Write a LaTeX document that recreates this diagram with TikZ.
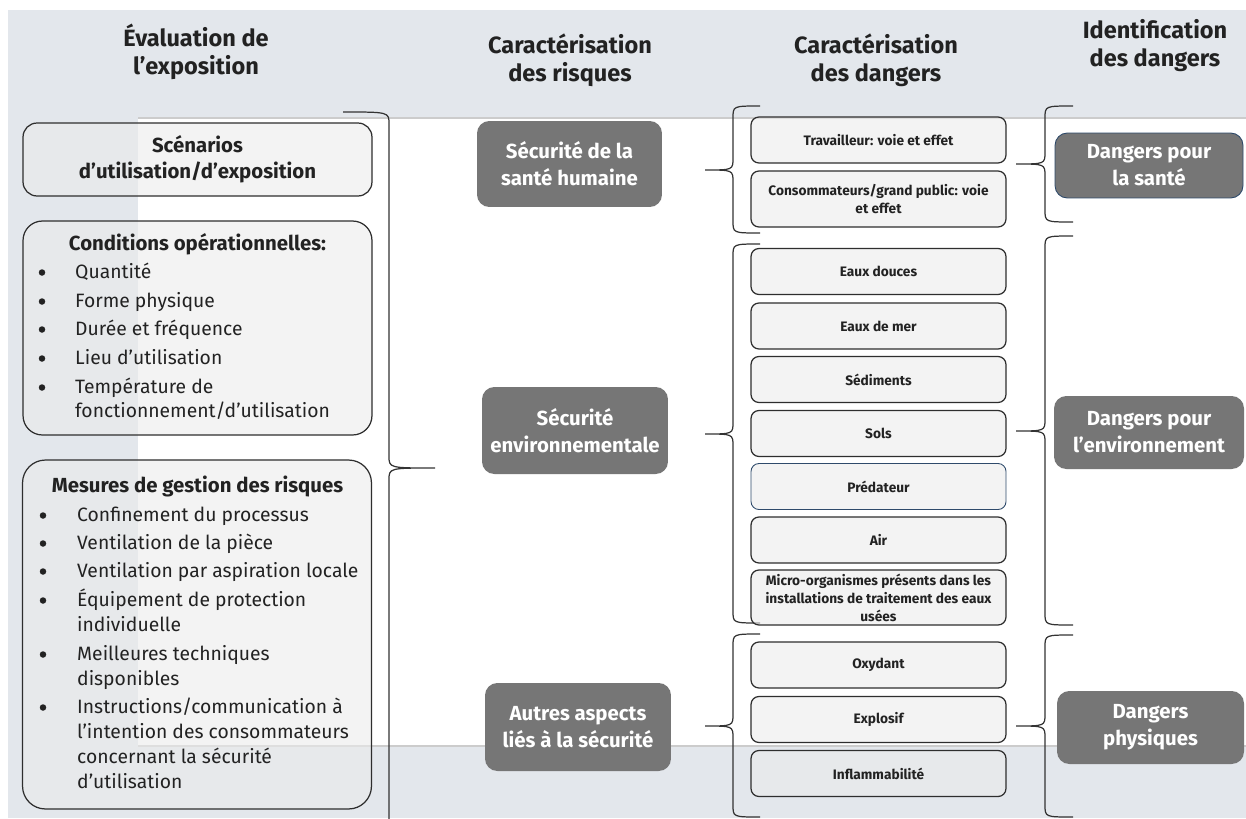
\documentclass[tikz,border=0pt]{standalone}
\usepackage{fontspec}
\setmainfont{Fira Sans}
\definecolor{bandgray}{HTML}{E3E7EC}
\definecolor{boxdark}{HTML}{767676}
\definecolor{edgegray}{HTML}{2E2E2E}
\definecolor{bluegray}{HTML}{2E4A6B}
\definecolor{inkgray}{HTML}{222222}

% xv, top, mid, bottom, tip x, hook x
\newcommand{\curly}[6]{%
  \draw[bracestroke] (#6,#2) .. controls ({#1},#2) .. ({#1},{#2+12})
    -- ({#1},{#3-12}) .. controls ({#1},#3) .. (#5,#3)
    .. controls ({#1},#3) .. ({#1},{#3+12})
    -- ({#1},{#4-12}) .. controls ({#1},#4) .. (#6,#4);}

\begin{document}
\begin{tikzpicture}[x=0.02cm,y=-0.02cm,
    bracestroke/.style={draw=black!80,line width=0.7pt},
    headtext/.style={text=inkgray,align=center,font=\bfseries\fontsize{13.4}{15.9}\selectfont},
    panelbox/.style={draw=edgegray,line width=0.7pt,fill=black!8,fill opacity=0.6,text opacity=1,
      text=inkgray,minimum width=6.98cm,inner sep=0pt,align=center,font=\bfseries\fontsize{11.6}{14.7}\selectfont},
    listhead/.style={anchor=base,text=inkgray,font=\bfseries\fontsize{11.6}{14}\selectfont},
    listitem/.style={anchor=base west,text=inkgray,font=\fontsize{11}{14}\selectfont},
    bulletmark/.style={circle,fill=inkgray,minimum size=0.13cm,inner sep=0pt,yshift=0.11cm},
    darkbox/.style={fill=boxdark,text=white,rounded corners=7pt,inner sep=0pt,align=center,
      font=\bfseries\fontsize{11.6}{15.3}\selectfont},
    smallbox/.style={draw=edgegray,line width=0.7pt,fill=black!8,fill opacity=0.6,text opacity=1,
      text=inkgray,rounded corners=4.5pt,minimum width=5.1cm,minimum height=0.92cm,inner sep=0pt,
      align=center,font=\bfseries\fontsize{7.8}{10.2}\selectfont}]
        \useasboundingbox (0,0) rectangle (1246,818);
        \fill[bandgray] (8,10) rectangle (1246,818);
        \fill[white] (138,118) rectangle (1246,746);
        \draw[black!20,line width=0.6pt] (138,118) -- (1246,118);
        \draw[black!20,line width=0.6pt] (138,746) -- (1246,746);

        \node[headtext] (evalhead) at (196,52) {Évaluation de\\l’exposition};
        \node[headtext] (riskhead) at (570,60) {Caractérisation\\des risques};
        \node[headtext] (dangerhead) at (876,60) {Caractérisation\\des dangers};
        \node[headtext] (identhead) at (1155,46) {Identification\\des dangers};

        \begin{scope}
            \clip (0,0) rectangle (1246,818);
            \curly{389}{112}{468}{830}{435}{343}
        \end{scope}
        \curly{733}{106}{170}{233}{705}{760}
        \curly{733}{244}{434}{623}{705}{760}
        \curly{733}{634}{726}{817}{705}{760}
        \curly{1045}{106}{164}{222}{1016}{1073}
        \curly{1045}{236}{431}{625}{1016}{1073}
        \curly{1045}{635}{726}{817}{1016}{1073}

        \node[panelbox,rounded corners=8pt,minimum height=1.46cm] (scenario) at (197.5,159.5) {Scénarios\\d’utilisation/d’exposition};
        \node[panelbox,rounded corners=11pt,minimum height=4.28cm] (condbox) at (197.5,328) {};
        \node[panelbox,rounded corners=13pt,minimum height=6.98cm] (mesbox) at (197,634.5) {};

        \node[listhead] (condtitle) at (197.5,250) {Conditions opérationnelles:};
        \node[bulletmark] (condb1) at (42,278) {};
        \node[listitem] (condi1) at (69,278) {Quantité};
        \node[bulletmark] (condb2) at (42,307) {};
        \node[listitem] (condi2) at (69,307) {Forme physique};
        \node[bulletmark] (condb3) at (42,335) {};
        \node[listitem] (condi3) at (69,335) {Durée et fréquence};
        \node[bulletmark] (condb4) at (42,364) {};
        \node[listitem] (condi4) at (69,364) {Lieu d’utilisation};
        \node[bulletmark] (condb5) at (42,393) {};
        \node[listitem] (condi5) at (69,393) {Température de};
        \node[listitem] (condi5b) at (69,417) {fonctionnement/d’utilisation};

        \node[listhead] (mestitle) at (197.5,492) {Mesures de gestion des risques};
        \node[bulletmark] (mesb1) at (43,521) {};
        \node[listitem] (mesi1) at (71,521) {Confinement du processus};
        \node[bulletmark] (mesb2) at (43,549) {};
        \node[listitem] (mesi2) at (71,549) {Ventilation de la pièce};
        \node[bulletmark] (mesb3) at (43,577) {};
        \node[listitem] (mesi3) at (71,577) {Ventilation par aspiration locale};
        \node[bulletmark] (mesb4) at (43,606) {};
        \node[listitem] (mesi4) at (71,606) {Équipement de protection};
        \node[listitem] (mesi4b) at (71,631) {individuelle};
        \node[bulletmark] (mesb5) at (43,660) {};
        \node[listitem] (mesi5) at (71,660) {Meilleures techniques};
        \node[listitem] (mesi5b) at (71,685) {disponibles};
        \node[bulletmark] (mesb6) at (43,713) {};
        \node[listitem] (mesi6) at (71,713) {Instructions/communication à};
        \node[listitem] (mesi6b) at (71,738) {l’intention des consommateurs};
        \node[listitem] (mesi6c) at (71,763) {concernant la sécurité};
        \node[listitem] (mesi6d) at (71,788) {d’utilisation};

        \node[darkbox,minimum width=3.7cm,minimum height=1.72cm] (humanrisk) at (569.5,164) {Sécurité de la\\santé humaine};
        \node[darkbox,minimum width=3.72cm,minimum height=1.74cm] (envrisk) at (575,430.5) {Sécurité\\environnementale};
        \node[darkbox,minimum width=3.72cm,minimum height=1.76cm] (otherrisk) at (578,727) {Autres aspects\\liés à la sécurité};

        \node[smallbox] (worker) at (878.5,140) {Travailleur: voie et effet};
        \node[smallbox,minimum height=1.12cm] (consumer) at (878.5,199) {Consommateurs/grand public: voie\\et effet};
        \node[smallbox] (freshwater) at (878.5,271.5) {Eaux douces};
        \node[smallbox] (seawater) at (878.5,326) {Eaux de mer};
        \node[smallbox] (sediment) at (878.5,379.5) {Sédiments};
        \node[smallbox] (soil) at (878.5,433.5) {Sols};
        \node[smallbox,draw=bluegray,line width=0.5pt] (predator) at (878.5,486.5) {Prédateur};
        \node[smallbox] (air) at (878.5,540) {Air};
        \node[smallbox,minimum height=1.1cm] (microorg) at (878.5,597.5) {Micro-organismes présents dans les\\installations de traitement des eaux\\usées};
        \node[smallbox] (oxidant) at (878.5,665) {Oxydant};
        \node[smallbox] (explosive) at (878.5,719.5) {Explosif};
        \node[smallbox] (flammable) at (878.5,773.5) {Inflammabilité};

        \node[darkbox,draw=bluegray,line width=0.5pt,minimum width=3.76cm,minimum height=1.3cm] (healthhaz) at (1149,165.5) {Dangers pour\\la santé};
        \node[darkbox,minimum width=3.8cm,minimum height=1.46cm] (envhaz) at (1149,432.5) {Dangers pour\\l’environnement};
        \node[darkbox,minimum width=3.74cm,minimum height=1.46cm] (physhaz) at (1150.5,727.5) {Dangers\\physiques};
\end{tikzpicture}
\end{document}
